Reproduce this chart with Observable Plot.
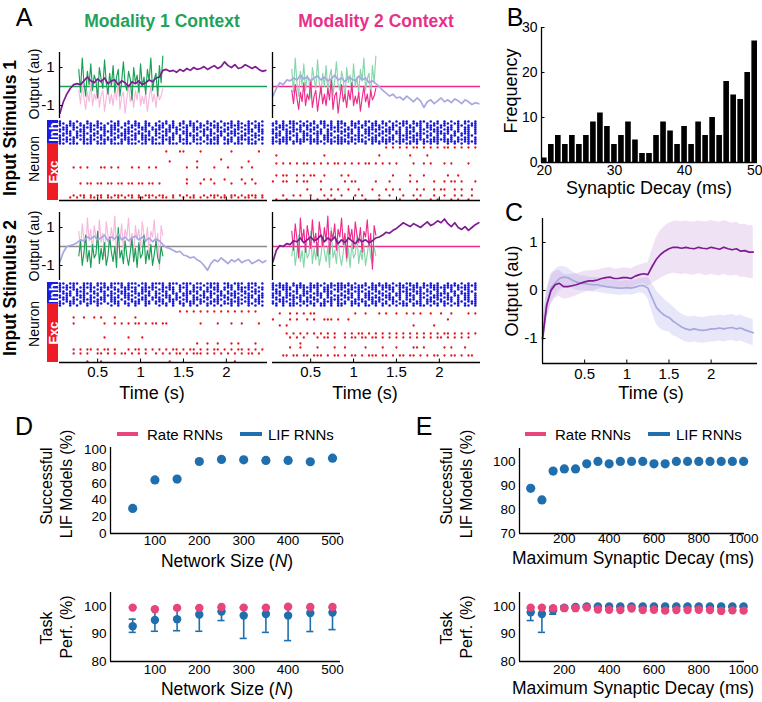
<!DOCTYPE html>
<html><head><meta charset="utf-8">
<script src="https://cdn.jsdelivr.net/npm/d3@7"></script>
<script src="https://cdn.jsdelivr.net/npm/@observablehq/plot@0.6"></script>
<style>
html,body{margin:0;padding:0;background:#fff;}
#fig{position:relative;width:762px;height:702px;overflow:hidden;background:#fff;font-family:"Liberation Sans",Arial,Helvetica,sans-serif;color:#000;}
.lab{position:absolute;white-space:nowrap;line-height:1;}
svg{overflow:visible}
</style></head><body><div id="fig"></div>
<script>
// ---------------- DATA ----------------
// Panel A: output traces (sampled every 0.04 s from 0.06 s)
const tOut0 = 0.06, dtOut = 0.04;
const outS1M1 = [-1.4,-0.8,-0.4,-0.1,0.1,0.15,0.1,0.3,0.5,0.3, 0.2,0.4,0.25,0.45,0.15,0.3,0.35,0.1,0.3,0.2, 0.0,0.25,0.15,0.3,0.1,0.2,0.35,0.25,0.45,0.5, 0.85,0.9,0.8,0.85,0.75,0.9,0.8,0.95,0.85,1.0, 0.9,0.95,1.05,0.9,1.0,1.1,0.95,1.05,1.3,1.1, 1.0,1.15,0.95,1.0,1.15,1.05,0.95,1.05,0.9,0.8,0.85];
const outS1M2 = [-0.5,-0.1,0.2,0.1,0.35,0.3,0.45,0.35,0.6,0.4, 0.5,0.3,0.45,0.55,0.35,0.5,0.3,0.4,0.6,0.35, 0.45,0.25,0.5,0.4,0.3,0.55,0.35,0.45,0.2,0.3, 0.15,0.0,-0.2,-0.35,-0.5,-0.4,-0.6,-0.55,-0.7,-0.5, -0.65,-0.8,-0.6,-0.75,-1.1,-0.8,-0.7,-0.9,-0.75,-0.6, -0.8,-0.7,-0.85,-0.65,-0.75,-0.9,-0.7,-0.8,-0.95,-0.85,-0.9];
const outS2M1 = [-0.8,-0.3,0.0,0.05,0.1,0.2,0.35,0.3,0.5,0.4, 0.55,0.35,0.45,0.6,0.3,0.5,0.4,0.65,0.35,0.5, 0.3,0.45,0.55,0.35,0.5,0.3,0.45,0.25,0.4,0.3, 0.1,-0.05,-0.1,-0.2,-0.3,-0.25,-0.45,-0.5,-0.6,-0.55, -0.7,-0.8,-1.0,-1.25,-0.9,-0.7,-0.8,-0.6,-0.75,-0.9, -0.7,-0.8,-0.65,-0.85,-0.75,-0.7,-0.9,-0.8,-0.7,-0.85,-0.75];
const outS2M2 = [-0.8,-0.2,0.05,0.0,0.15,0.1,0.3,0.25,0.45,0.2, 0.35,0.5,0.3,0.4,0.6,0.25,0.45,0.3,0.5,0.15, 0.35,0.2,0.45,0.3,0.15,0.4,0.25,0.35,0.2,0.3, 0.45,0.5,0.6,0.75,0.7,0.85,0.95,1.1,1.25,1.15, 1.05,1.2,1.1,1.0,1.15,1.3,1.1,1.2,1.35,1.25, 1.45,1.2,1.05,1.25,1.0,0.9,1.05,0.85,1.0,1.15,1.25];
// Panel A: noisy stimuli (every 0.02 s from 0.28 s)
const tStim0 = 0.28, dtStim = 0.02;
const stim1Mod1 = [0.9,-0.3,1.5,0.2,-0.5,0.8,0.1,1.2,-0.2,0.6, 0.3,-0.6,1.0,0.4,-0.1,1.4,0.2,-0.4,0.7,0.0, 1.1,-0.3,0.5,0.9,-0.5,0.3,1.3,0.1,-0.2,0.8, 0.4,-0.7,1.0,0.2,0.6,-0.3,1.2,0.0,0.5,-0.4, 0.9,0.3,1.5,-0.2,0.4,0.7,-0.5,1.1,0.2,1.6];
const stim1Mod2 = [-0.2,-0.9,0.1,-0.6,-1.2,-0.3,-0.8,0.2,-1.0,-0.4, -0.7,0.3,-1.1,-0.5,-0.2,-1.3,-0.6,0.0,-0.9,-0.4, -1.0,-0.1,-0.7,0.4,-1.2,-0.5,-0.3,-1.4,-0.6,0.1, -0.8,-0.4,-1.1,-0.2,-0.7,0.2,-1.0,-0.5,-0.9,-0.3, -1.3,-0.6,0.0,-0.8,-0.4,-1.1,-0.2,-0.7,-0.5,-0.1];
const stim2Mod1 = [-0.5,0.3,-1.0,-0.3,0.6,-0.8,-0.2,-1.1,0.1,-0.6, -0.4,0.8,-0.9,-0.1,-0.7,0.2,-1.0,-0.5,0.5,-0.3, -0.8,0.0,-1.1,1.0,-0.6,-0.2,-0.9,0.3,-0.5,-1.0, -0.3,0.4,-0.8,-0.1,-1.1,0.2,-0.6,-0.4,0.6,-0.9, -0.2,-0.7,0.1,-1.0,-0.4,0.3,-0.6,-0.9,0.0,-0.5];
const stim2Mod2 = [0.8,-0.2,1.2,0.4,-0.6,1.5,0.3,0.9,-0.3,1.1, 0.5,-0.1,1.4,0.2,0.7,-0.5,1.3,0.6,0.0,1.0, 0.3,1.6,-0.4,0.8,0.4,1.2,-0.2,0.9,0.5,1.5, 0.1,0.7,-0.6,1.1,0.4,0.9,-0.1,1.3,0.6,0.2, 1.0,-0.3,0.8,0.5,1.4,0.0,0.7,-1.2,1.1,0.6];
const stimBaseline = 0;
// Panel A: rasters (x = spike in a 0.04 s bin starting 0.06 s; spaces are only separators)
const tRaster0 = 0.06, dtRaster = 0.04;
const inhCol1 = [
"x..x.x..x. .x...x.x.. x.x..x...x .x.x..x.x. x..x.x.x.. x.x..x.x.x",
"xx.xx.x.xx .xx.x.xx.x x.xx.xx.x. xx.x.xx.xx .x.xx.x.xx x.xx.xx.x.",
"x.xxx.xx.x xx.x.xxx.x .xxx.xx.xx x.xx.x.xxx .xx.xxx.x. xxx.xx.xxx",
".xx.xx.xxx .xxx.xx.x. xx.xxx.x.x x.xxx.xx.x xx.x.xxx.x x.xx.x.xx.",
"xxx.x.xx.x x.xx.xxx.x x.x.xx.xxx .xx.xx.x.x x.xxx.x.xx .xx.xxx.xx",
"x.xx.xxx.x .x.xxx.x.x xx.x.xx.x. xxx.x.xx.x .xx.x.xxx. xx.x.xx.xx",
".xxx.x.xx. xx.x.xx.xx x.xxx.x.xx .x.xx.xxx. x.x.xx.x.x xxx.xx.x.x",
"xx.x.xxx.x x.xx.x.xxx .xx.xxx.x. xx.x.x.xxx x.xxx.xx.x .x.xx.xxx.",
"x.x.xx.x.x .xx.x.xx.x x.x.xx.x.x x.xx.x.x.x .x.x.xx.x. x.xx.x.x.x",
"xxxxx.xxxx x.xxxxx.xx xxx.xxxxx. xxxx.xxx.x xx.xxxx.xx x.xxxxx.xx",
"x.x.x..x.x .x.x.x..x. x..x.x.x.. x.x..x.x.x ..x.x.x..x x.x..x.x..",
"xx.xxx.xxx .xxx.xxxx. xxx.xx.xxx x.xxx.xxx. xx.xxxx.xx .xxx.xxx.x"];
const inhCol2 = [
".x.x.xx.x. x.x.xx.x.x x..x.x.xx. x.x.x.x.xx .x.xx.x.x. x.x.x.xx.x",
"xx.x.xxx.x .xx.xx.x.x xx.xxx.x.x x.xx.x.xxx .xxx.x.xx. xx.xx.x.xx",
"x.xxx.x.xx xx.x.xxx.x .x.xx.xx.x xx.x.xx.x. x.xx.xxx.x x.x.xx.xxx",
".xxx.xx.x. x.xx.x.xxx x.x.xxx.xx .xx.xx.x.x xx.x.xx.xx .xx.x.xx.x",
"xx.xx.xxx. xxx.x.xx.x .xxx.x.xxx xx.xxx.x.x .x.xx.xxx. xxx.x.xx.x",
"x.x.xxx.xx .x.xx.x.xx xx.x.x.xx. x.xxx.xx.x xx.x.x.xxx .x.xx.xx.x",
"xxx.xx.x.x x.xxx.xx.. x.xx.x.xxx .xx.x.xx.x x.xxx.x.xx xx.x.xxx.x",
".xx.x.xx.x xx.x.xxx.x .xx.xxx.x. xx.x.x.xxx .xxx.xx.x. x.xx.x.xx.",
"xx.xxx.x.x .x.x.xx.xx x.xx.x.x.x x.x.xx.x.x xx.x.x.xx. x.x.x.xx.x",
"x.xxxx.xxx xxxx.xxx.x xx.xxxx.xx x.xxxx.xxx .xxxx.xxxx xxx.xxxx.x",
"xxxxx.xxxx .xxxx.xxxx xxxx.xxx.x xxxxx.xxx. xxx.xxxxx. xxxxx.xxxx",
"x.x.x.x.x. .x.x.x.x.x x.x.x..x.x .x.x.x.x.x x.x.x.x.x. .x.x.x.x.x"];
// excitatory rows (row index below the inhibitory block -> spike string)
const excS1M1 = {
 3:".......... .......... .......... .x...xx... .x........ x.......x.",
 7:".......... .......... .......... .......... .......x.. ..........",
 8:".......... .......... .......... ..x....... x......... .....x....",
 11:"....x.x.x. ..xx.x.x.. .x.x..x.x. .......x.. x....x...x ...x..x...",
 17:".......... .......... .......... .......x.. ..x.x...x. ...x..x...",
 19:"......x.xx .xx.xx.xx. xx.xx.xx.x .......x.. .x...x.... x...x..x..",
 25:"....x.xx.x .xx.x.xxx. xx.x.xxx.x x..x.x.x.x ..x.xxx.x. xx.x.xxx.x",
 26:"...x.x.x.x x.x.xx.x.x .x.xx.x.x. xx.x..x.xx .x.x.x.xx. x.x.xx.x.x"};
const excS1M2 = {
 1:".......... .......... .......... ...x.x.x.x .xx.x.x.x. xx.x.x.x.x",
 5:".x........ .....x.... .......... .x........ x....x.... ..........",
 9:".x.x.x.x.x x.x.x.x.xx .x.x.x.xx. x.x.x.x... .x..x.x... x.x....x..",
 15:".x.xx..x.x .xx..x.... x.x....... .....x.... x...x..... .x..x.....",
 18:"x..xx..x.x x...x..... .x.xx..... x...x..... x.x....x.. x.xx.x...x",
 22:".......... x...x..x.x ..x..x...x ...x.x.x.. ..x.x..x.x x..x.x..x.",
 25:"...x..x.x. .x...x.x.. x...x.x... .x..x...x. .x.x...x.. x..x.x..x.",
 27:".x..x..... ...x..x.x. .......x.. .x.....x.. ..x...x.x. ..x.x..x.."};
const excS2M1 = {
 2:".......... .......... .......... .....x.x.x .x.x.x.x.x .x.x.x.x..",
 5:"....x..x.. x.x...x... ..x....... .......... .......... ..........",
 8:"....x..... ...x..x.x. x.xx.x.xx. xx........ .x....x... x..x....x.",
 15:".......... ...x...... x...x..... .......... .......... ..........",
 18:".......... .......... .......... .......... x..x..x... x.x....x..",
 21:"....x.x.xx .x.xx.x... x.xx.x.x.x .x.xx.x.xx .x.x.xx.x. x.xx.x.x.x",
 23:"....x.x.x. .xx.x.x.xx .x.x.x..x. x.x.xx.x.x xx.x.x.x.x .x.x.xx.x.",
 27:"........x. ..x....... .......... ..x....... .......... .x........"};
const excS2M2 = {
 3:"..x..x.x.x .xx....... ....x..x.. .x.x..x..x .x.x..x..x ..x....x.x",
 6:"x....x.x.. x.x..xxx.x ..x....... .......... .......... .x........",
 9:"..x.x..... .......... .......... .......... .x.....x.. ..........",
 13:"....x.x.x. x.x.x.x.x. .x.x.xx.x. x.x.x.x.x. x.x.x.x.x. xx.x.x.x.x",
 15:".....x.x.x ...x.xx.x. .x.xx.xx.x x.x.x.x.x. x.x.x.x.xx .x.x.x.x..",
 18:"........x. .......... .......... .......... .......... ..........",
 20:".....x..x. ...x....x. .x.....x.. ..x...x... .xx.x..... x.x...x...",
 24:"...xx.xx.x x.xxx.x.xx .x.xx.x.xx x.xx.x.xx. xx.x.x.xx. x.xx.x.xx."};
const nInh = 12, nExc = 28;
const timeTicks = [0.5, 1, 1.5, 2];
const outTicks = [-1, 1];

// Panel B: histogram of synaptic decay
const decayBins = [20,21,22,23,24,25,26,27,28,29,30,31,32,33,34,35,36,37,38,39,40,41,42,43,44,45,46,47,48,49,50];
const decayCounts = [1,4,6,4,6,4,6,9,11,8,4,6,9,5,2,2,6,9,7,4,8,4,9,6,10,6,18,15,14,20,27];
const bXTicks = [20,30,40,50], bYTicks = [0,10,20,30];

// Panel C: average outputs (every 0.05 s from 0 s) with spread
const tAvg0 = 0, dtAvg = 0.05;
const avgPurple = [-1.0,-0.3,0.0,0.12,0.15,0.08,0.08,0.1,0.12,0.15, 0.18,0.2,0.2,0.22,0.25,0.27,0.28,0.25,0.25,0.27, 0.27,0.25,0.3,0.33,0.35,0.33,0.5,0.65,0.75,0.82, 0.87,0.9,0.9,0.88,0.9,0.88,0.87,0.9,0.88,0.87, 0.9,0.88,0.86,0.9,0.87,0.85,0.87,0.82,0.83,0.8, 0.8];
const sdPurple = [0.3,0.3,0.3,0.28,0.27,0.26,0.25,0.24,0.23,0.22, 0.22,0.21,0.21,0.2,0.2,0.2,0.2,0.2,0.2,0.2, 0.2,0.2,0.2,0.2,0.21,0.25,0.35,0.45,0.5,0.52, 0.53,0.54,0.55,0.55,0.55,0.55,0.55,0.55,0.55,0.56, 0.56,0.56,0.56,0.56,0.56,0.55,0.55,0.55,0.55,0.55, 0.55];
const avgLav = [-1.0,-0.3,0.05,0.15,0.25,0.28,0.27,0.22,0.18,0.15, 0.15,0.13,0.12,0.12,0.1,0.08,0.07,0.06,0.05,0.05, 0.06,0.05,0.07,0.1,0.1,0.05,-0.15,-0.35,-0.45,-0.52, -0.56,-0.64,-0.7,-0.76,-0.8,-0.82,-0.8,-0.82,-0.83,-0.82, -0.8,-0.8,-0.78,-0.8,-0.78,-0.77,-0.8,-0.78,-0.82,-0.85, -0.88];
const sdLav = [0.3,0.3,0.3,0.28,0.25,0.22,0.2,0.18,0.17,0.16, 0.15,0.15,0.15,0.15,0.15,0.15,0.15,0.15,0.15,0.15, 0.15,0.15,0.15,0.15,0.16,0.22,0.3,0.35,0.35,0.33, 0.3,0.3,0.28,0.27,0.27,0.27,0.27,0.27,0.27,0.27, 0.27,0.27,0.27,0.27,0.27,0.27,0.27,0.27,0.27,0.27, 0.27];
const cYTicks = [-1,0,1];

// Panel D: network size
const netSize = [50,100,150,200,250,300,350,400,450,500];
const dSuccess = [30,64,65,86,88.5,88,87.3,87.3,85.7,90];
const dLifPerf = [92.8,95.1,95.4,97.1,98.2,96.7,97.3,96.7,97.6,97.8];
const dLifLow = [90.6,91.0,91.2,91.0,94.9,88.4,90.6,87.6,90.9,91.6];
const dLifHigh = [95.4,99.0,99.2,99.5,99.6,99.6,99.6,99.6,99.6,99.6];
const dRatePerf = [99.6,99.0,99.5,99.5,99.8,99.6,99.6,99.9,99.8,99.8];
const dXTicks = [100,200,300,400,500];

// Panel E: maximum synaptic decay
const maxDecay = [50,100,150,200,250,300,350,400,450,500,550,600,650,700,750,800,850,900,950,1000];
const eSuccess = [88.8,84.0,96.0,96.9,96.9,99,100,99,100,100,100,99,99,100,100,100,100,100,100,100];
const eLifPerf = [97.9,97.3,98.6,99.6,99.8,100,100,100,100,100,100,100,100,100,100,100,100,100,100,100];
const eLifLow = [94.9,90.6,97.2,98.9,99.5,99.7,99.7,99.7,99.7,99.7,99.7,99.7,99.7,99.7,99.7,99.7,99.7,99.7,99.7,99.7];
const eLifHigh = [99.4,99.6,99.8,100.2,100.2,100.2,100.2,100.2,100.2,100.2,100.2,100.2,100.2,100.2,100.2,100.2,100.2,100.2,100.2,100.2];
const eRatePerf = [99.6,99.6,99.4,99.4,99.4,99.6,98.9,98.8,98.7,99.3,98.7,98.8,98.5,98.7,98.7,98.8,98.7,98.4,98.6,98.5];
const eXTicks = [200,400,600,800,1000];
const perfTicks = [80,90,100];

// ---------------- STYLE / HELPERS ----------------
const FONT = '"Liberation Sans", Arial, Helvetica, sans-serif';
const COL = {green:'#17a055', greenLt:'#86d6aa', pink:'#ef2b8c', pinkLt:'#f6b8dc', purple:'#7d1b92', lav:'#a7a7e2',
  gray:'#8a8a8a', inh:'#1414e6', exc:'#e8141b', rate:'#e8457c', lif:'#1f6fae'};
const fig = document.getElementById('fig');
const fmt = d => String(d);

function mkPlot(frame, m, opts, fontSize = 15) {
  const [fx, fy, fw, fh] = frame;
  const [mt, mr, mb, ml] = m;
  const o = Object.assign({}, opts);
  o.marks = (opts.marks || []).filter(Boolean);
  const svg = Plot.plot({
    width: ml + fw + mr, height: mt + fh + mb,
    marginTop: mt, marginRight: mr, marginBottom: mb, marginLeft: ml,
    style: {fontFamily: FONT, fontSize: fontSize + 'px', background: 'transparent', overflow: 'visible', color: '#000'},
    ...o
  });
  svg.style.position = 'absolute';
  svg.style.left = (fx - ml) + 'px';
  svg.style.top = (fy - mt) + 'px';
  fig.appendChild(svg);
  return svg;
}
function label(html, x, y, o = {}) {
  const d = document.createElement('div');
  d.className = 'lab';
  d.innerHTML = html;
  d.style.left = x + 'px'; d.style.top = y + 'px';
  d.style.fontSize = (o.size || 16) + 'px';
  if (o.weight) d.style.fontWeight = o.weight;
  if (o.color) d.style.color = o.color;
  const tr = o.anchor === 'start' ? 'translate(0,-50%)' : 'translate(-50%,-50%)';
  d.style.transform = tr + (o.rotate ? ' rotate(-90deg)' : '');
  fig.appendChild(d);
  return d;
}
function box(x, y, w, h, bg) {
  const d = document.createElement('div');
  Object.assign(d.style, {position:'absolute', left:x+'px', top:y+'px', width:w+'px', height:h+'px', background:bg});
  fig.appendChild(d);
}
const series = (vals, t0, dt) => vals.map((v, i) => ({t: t0 + dt * i, v}));
function spikes(rows, offset) {
  const pts = [];
  Object.entries(rows).forEach(([r, s]) => {
    const c = s.replace(/ /g, '');
    for (let k = 0; k < c.length; k++) if (c[k] === 'x') pts.push({t: tRaster0 + dtRaster * k, row: +r + offset});
  });
  return pts;
}

// ---------------- PANEL A ----------------
const timeDomain = [0.055, 2.48];
function outputPanel(frame, yDom, baseCol, faint, faintCol, bold, boldCol, out, outCol, showY) {
  const fw = frame[2];
  mkPlot(frame, [2, 2, 2, 30], {
    x: {domain: timeDomain, axis: null},
    y: {domain: yDom, ...(showY ? {} : {axis: null})},
    marks: [
      Plot.ruleY([stimBaseline], {stroke: baseCol, strokeWidth: 1.4}),
      Plot.lineY(series(faint, tStim0, dtStim), {x: 't', y: 'v', stroke: faintCol, strokeWidth: 1.15}),
      Plot.lineY(series(bold, tStim0, dtStim), {x: 't', y: 'v', stroke: boldCol, strokeWidth: 1.15}),
      Plot.lineY(series(out, tOut0, dtOut), {x: 't', y: 'v', stroke: outCol, strokeWidth: 1.7}),
      Plot.ruleX([timeDomain[0]], {stroke: '#000', strokeWidth: 1.3}),
      Plot.tickY(outTicks, {y: d => d, insetRight: fw - 3.5, stroke: '#000'}),
      showY ? Plot.axisY(outTicks, {tickSize: 0, tickPadding: 5, label: null, tickFormat: fmt}) : null
    ]
  });
}
function rasterPanel(frame, inh, exc, showX) {
  const fh = frame[3];
  mkPlot(frame, [0, 2, 24, 2], {
    x: {domain: timeDomain, ...(showX ? {} : {axis: null})},
    y: {domain: [-0.5, nInh + nExc - 0.5], reverse: true, axis: null},
    marks: [
      Plot.dot(spikes(inh, 0), {x: 't', y: 'row', r: 1.25, fill: COL.inh, stroke: 'none'}),
      Plot.dot(spikes(exc, nInh), {x: 't', y: 'row', r: 1.15, fill: COL.exc, stroke: 'none'}),
      Plot.ruleY([nInh + nExc - 0.5], {stroke: '#000', strokeWidth: 1.3}),
      Plot.tickX(timeTicks, {x: d => d, insetTop: fh - 3.5, stroke: '#000'}),
      showX ? Plot.axisX(timeTicks, {tickSize: 0, tickPadding: 4, label: null, tickFormat: fmt}) : null
    ]
  });
}
outputPanel([59, 52, 208, 66], [-1.68, 1.79], COL.green, stim1Mod2, COL.pinkLt, stim1Mod1, COL.green, outS1M1, COL.purple, true);
outputPanel([272, 52, 208, 66], [-1.68, 1.79], COL.pink, stim1Mod1, COL.greenLt, stim1Mod2, COL.pink, outS1M2, COL.lav, false);
outputPanel([59, 212, 208, 68], [-1.79, 1.79], COL.gray, stim2Mod2, COL.pinkLt, stim2Mod1, COL.green, outS2M1, COL.lav, true);
outputPanel([272, 212, 208, 68], [-1.79, 1.79], COL.pink, stim2Mod1, COL.greenLt, stim2Mod2, COL.pink, outS2M2, COL.purple, false);
rasterPanel([59, 120, 208, 80], inhCol1, excS1M1, false);
rasterPanel([272, 120, 208, 80], inhCol2, excS1M2, false);
rasterPanel([59, 282, 208, 80], inhCol1.slice().reverse(), excS2M1, true);
rasterPanel([272, 282, 208, 80], inhCol2.slice().reverse(), excS2M2, true);

// Inh / Exc tags
[[120, 143, 200], [282, 303, 362]].forEach(([a, b, c]) => {
  box(47, a, 11, b - a, '#1a1ae0');
  box(47, b, 11, c - b, '#ee1c25');
  label('Inh', 52.5, (a + b) / 2, {size: 13, weight: 'bold', color: '#fff', rotate: true});
  label('Exc', 52.5, (b + c) / 2, {size: 13, weight: 'bold', color: '#fff', rotate: true});
});
label('A', 24, 17, {size: 25});
label('Modality 1 Context', 162, 22, {size: 17.5, weight: 'bold', color: '#1fa35b'});
label('Modality 2 Context', 376, 22, {size: 17.5, weight: 'bold', color: '#e8308a'});
label('Input Stimulus 1', 11, 128, {size: 17.5, weight: 'bold', rotate: true});
label('Input Stimulus 2', 11, 288, {size: 17.5, weight: 'bold', rotate: true});
label('Output (au)', 34, 84, {size: 14, rotate: true});
label('Output (au)', 34, 246, {size: 14, rotate: true});
label('Neuron', 34, 159, {size: 14, rotate: true});
label('Neuron', 34, 324, {size: 14, rotate: true});
label('Time (s)', 152, 393, {size: 18});
label('Time (s)', 365, 393, {size: 18});

// ---------------- PANEL B ----------------
const bDom = [19.6, 50.4];
mkPlot([541, 27, 216, 135], [6, 6, 24, 30], {
  x: {domain: bDom}, y: {domain: [0, 30]},
  marks: [
    Plot.rectY(decayBins.map((c, i) => ({c, n: decayCounts[i]})), {x1: d => d.c - 0.5, x2: d => d.c + 0.5, y: 'n', fill: '#000', insetLeft: 0.7, insetRight: 0.7}),
    Plot.ruleX([bDom[0]], {stroke: '#000', strokeWidth: 1.3}),
    Plot.ruleY([0], {stroke: '#000', strokeWidth: 1.3}),
    Plot.tickY(bYTicks, {y: d => d, insetRight: 216 - 3.5, stroke: '#000'}),
    Plot.axisY(bYTicks, {tickSize: 0, tickPadding: 4, label: null}),
    Plot.axisX(bXTicks, {tickSize: 0, tickPadding: 3, label: null})
  ]
}, 14);
label('B', 515, 17, {size: 25});
label('Frequency', 511, 91, {size: 18, rotate: true});
label('Synaptic Decay (ms)', 649, 188, {size: 18});

// ---------------- PANEL C ----------------
const cDom = [0, 2.55];
const cP = avgPurple.map((v, i) => ({t: tAvg0 + dtAvg * i, v, lo: v - sdPurple[i], hi: v + sdPurple[i]}));
const cL = avgLav.map((v, i) => ({t: tAvg0 + dtAvg * i, v, lo: v - sdLav[i], hi: v + sdLav[i]}));
mkPlot([542, 218, 215, 145], [4, 6, 24, 30], {
  x: {domain: cDom}, y: {domain: [-1.52, 1.5]},
  marks: [
    Plot.areaY(cL, {x: 't', y1: 'lo', y2: 'hi', fill: '#a9a9ea', fillOpacity: 0.28}),
    Plot.areaY(cP, {x: 't', y1: 'lo', y2: 'hi', fill: '#c08ad4', fillOpacity: 0.25}),
    Plot.lineY(cL, {x: 't', y: 'v', stroke: COL.lav, strokeWidth: 1.7}),
    Plot.lineY(cP, {x: 't', y: 'v', stroke: COL.purple, strokeWidth: 1.7}),
    Plot.ruleX([cDom[0]], {stroke: '#000', strokeWidth: 1.3}),
    Plot.ruleY([-1.52], {stroke: '#000', strokeWidth: 1.3}),
    Plot.tickY(cYTicks, {y: d => d, insetRight: 215 - 3.5, stroke: '#000'}),
    Plot.tickX(timeTicks, {x: d => d, insetTop: 145 - 3.5, stroke: '#000'}),
    Plot.axisY(cYTicks, {tickSize: 0, tickPadding: 5, label: null, tickFormat: fmt}),
    Plot.axisX(timeTicks, {tickSize: 0, tickPadding: 5, label: null, tickFormat: fmt})
  ]
});
label('C', 514, 212, {size: 25});
label('Output (au)', 512, 291, {size: 18, rotate: true});
label('Time (s)', 651, 393, {size: 18});

// ---------------- PANELS D & E ----------------
function successPanel(frame, xs, ys, xDom, yDom, xTicks, yTicks, xPad) {
  mkPlot(frame, [4, 8, 22, 40], {
    x: {domain: xDom}, y: {domain: yDom},
    marks: [
      Plot.ruleX([xDom[0]], {stroke: '#000', strokeWidth: 1.3}),
      Plot.ruleY([yDom[0]], {stroke: '#000', strokeWidth: 1.3}),
      Plot.dot(xs.map((x, i) => ({x, y: ys[i]})), {x: 'x', y: 'y', r: 4.6, fill: COL.lif, stroke: 'none'}),
      Plot.axisY(yTicks, {tickSize: 0, tickPadding: 4, label: null, tickFormat: fmt}),
      Plot.axisX(xTicks, {tickSize: 0, tickPadding: xPad, label: null, tickFormat: fmt})
    ]
  }, 13.5);
}
function perfPanel(frame, xs, lif, lo, hi, rate, xDom, xTicks, cap) {
  const yDom = [80, 105.1];
  const d = xs.map((x, i) => ({x, lif: lif[i], lo: lo[i], hi: hi[i], rate: rate[i]}));
  mkPlot(frame, [4, 8, 22, 40], {
    x: {domain: xDom}, y: {domain: yDom},
    marks: [
      Plot.ruleX([xDom[0]], {stroke: '#000', strokeWidth: 1.3}),
      Plot.ruleY([yDom[0]], {stroke: '#000', strokeWidth: 1.3}),
      Plot.ruleX(d, {x: 'x', y1: 'lo', y2: 'hi', stroke: COL.lif, strokeWidth: 1.6}),
      Plot.ruleY(d, {y: 'lo', x1: e => e.x - cap, x2: e => e.x + cap, stroke: COL.lif, strokeWidth: 1.6}),
      Plot.ruleY(d, {y: 'hi', x1: e => e.x - cap, x2: e => e.x + cap, stroke: COL.lif, strokeWidth: 1.6}),
      Plot.dot(d, {x: 'x', y: 'lif', r: 4.2, fill: COL.lif, stroke: 'none'}),
      Plot.dot(d, {x: 'x', y: 'rate', r: 4.2, fill: COL.rate, stroke: 'none'}),
      Plot.axisY(perfTicks, {tickSize: 0, tickPadding: 4, label: null, tickFormat: fmt}),
      Plot.axisX(xTicks, {tickSize: 0, tickPadding: 3, label: null, tickFormat: fmt})
    ]
  }, 13.5);
}
successPanel([110, 446.5, 230, 86], netSize, dSuccess, [0, 518], [0, 102.7], dXTicks, [0,20,40,60,80,100], 2);
perfPanel([110, 592, 230, 69], netSize, dLifPerf, dLifLow, dLifHigh, dRatePerf, [0, 518], dXTicks, 8);
successPanel([519, 448, 225, 85], maxDecay, eSuccess, [0, 1004], [70, 105.4], eXTicks, [70,80,90,100], 0);
perfPanel([519, 592, 225, 69], maxDecay, eLifPerf, eLifLow, eLifHigh, eRatePerf, [0, 1004], eXTicks, 16);

function legendAt(x0, y) {
  box(x0, y - 2.2, 21, 4.5, COL.rate);
  label('Rate RNNs', x0 + 30, y, {size: 15, anchor: 'start'});
  box(x0 + 123, y - 2.2, 22, 4.5, COL.lif);
  label('LIF RNNs', x0 + 151, y, {size: 15, anchor: 'start'});
}
legendAt(117, 434);
legendAt(525, 434);
label('D', 24, 426, {size: 25});
label('E', 424, 426, {size: 25});
[[47, 67], [447, 467]].forEach(([a, b]) => {
  label('Successful', a, 486, {size: 16, rotate: true});
  label('LIF Models (%)', b, 484, {size: 16, rotate: true});
  label('Task', a, 628, {size: 16, rotate: true});
  label('Perf. (%)', b, 627, {size: 16, rotate: true});
});
label('Network Size (<i>N</i>)', 227, 562, {size: 17.5});
label('Network Size (<i>N</i>)', 227, 690, {size: 17.5});
label('Maximum Synaptic Decay (ms)', 633, 559, {size: 17.5});
label('Maximum Synaptic Decay (ms)', 633, 689, {size: 17.5});
</script></body></html>
